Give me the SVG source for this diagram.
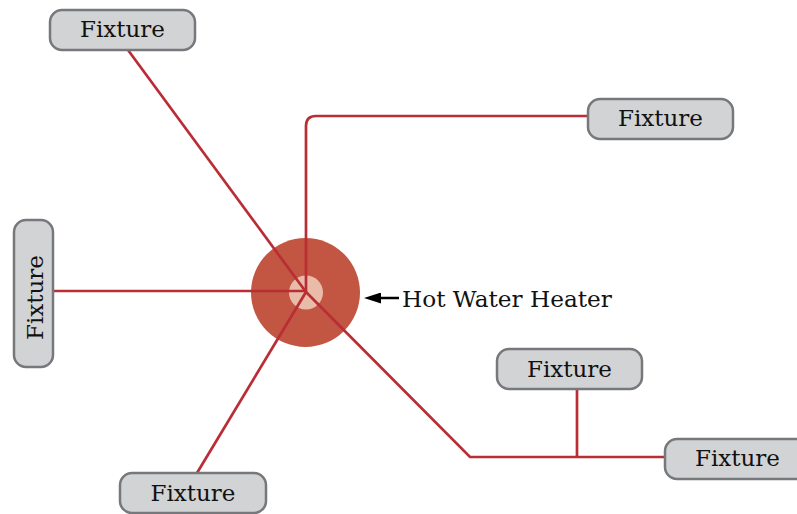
<svg xmlns="http://www.w3.org/2000/svg" width="797" height="514" viewBox="0 0 797 514">
<style>
.box{fill:#d1d3d4;stroke:#77787b;stroke-width:2.5}
.t{font-family:"DejaVu Serif",serif;font-size:23px;fill:#111;text-anchor:middle}
.pipe{fill:none;stroke:#b92d35;stroke-width:2.7}
</style>
<defs><marker id="ah" markerWidth="17" markerHeight="11" refX="1" refY="5.500" orient="auto" markerUnits="userSpaceOnUse"><path d="M0 0L17 5.500L0 11Z" fill="#000"/></marker></defs>
<rect width="797" height="514" fill="#fff"/>
<g id="heater"><circle cx="305.500" cy="292.500" r="54.500" fill="#c25642"/><circle cx="306" cy="292.500" r="17" fill="#e9bcaa"/></g>
<g id="connectors">
<path class="pipe" d="M128 50L306 292"/>
<path class="pipe" d="M306 292V126Q306 116 316 116H588"/>
<path class="pipe" d="M53 291H306"/>
<path class="pipe" d="M197 473L306 292"/>
<path class="pipe" d="M306 292L470 457H665"/>
<path class="pipe" d="M577 389V457"/>
<path d="M399 298H380" stroke="#000" stroke-width="2.500" marker-end="url(#ah)" fill="none"/>
</g>
<g id="n1"><rect class="box" x="50" y="10" width="145" height="40" rx="12"/><text class="t" x="122.500" y="37">Fixture</text></g>
<g id="n2"><rect class="box" x="588" y="99" width="145" height="40" rx="12"/><text class="t" x="660.500" y="126">Fixture</text></g>
<g id="n3"><rect class="box" x="14" y="220" width="39" height="147" rx="12"/><text class="t" transform="translate(43 297.500) rotate(-90)">Fixture</text></g>
<g id="n4"><rect class="box" x="497" y="349" width="145" height="40" rx="12"/><text class="t" x="569.500" y="377">Fixture</text></g>
<g id="n5"><rect class="box" x="665" y="439" width="145" height="40" rx="12"/><text class="t" x="737.500" y="466">Fixture</text></g>
<g id="n6"><rect class="box" x="120" y="473" width="146" height="40" rx="12"/><text class="t" x="193" y="501">Fixture</text></g>
<g id="label"><text x="402" y="307" font-family="'DejaVu Serif',serif" font-size="23.200" fill="#111">Hot Water Heater</text></g>
</svg>
